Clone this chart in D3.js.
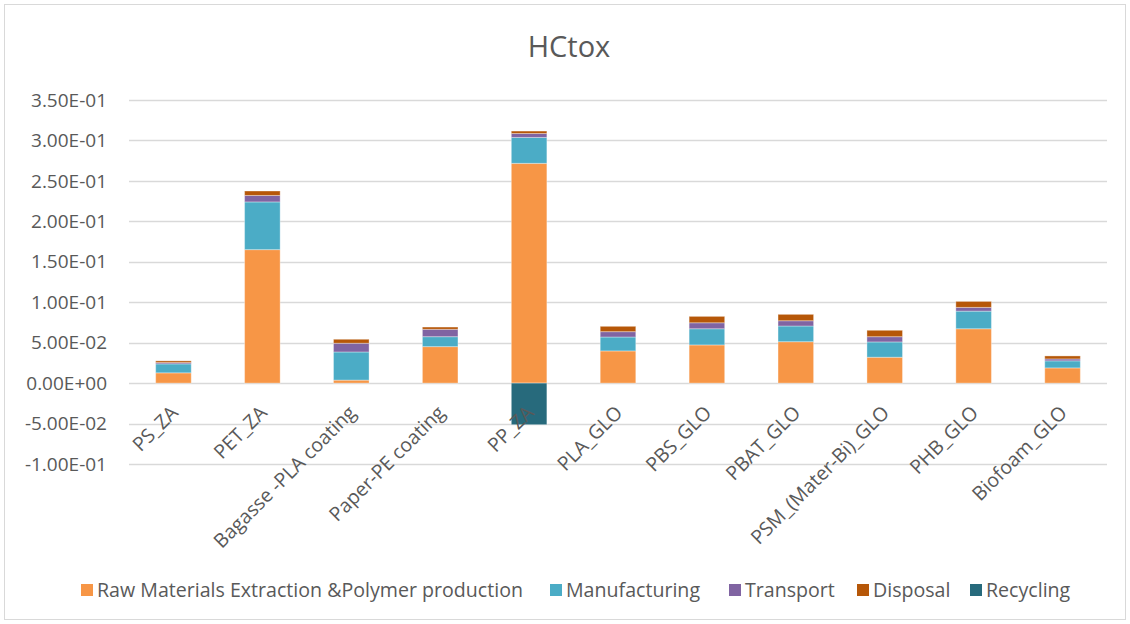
<!DOCTYPE html>
<html>
<head>
<meta charset="utf-8">
<script src="https://cdn.jsdelivr.net/npm/d3@7"></script>
<style>
  html, body { margin: 0; padding: 0; background: #fff; }
  text { font-family: "Open Sans", sans-serif; fill: #595959; }
</style>
</head>
<body>
<svg id="chart" width="1130" height="624"></svg>
<script>
const categories = ["PS_ZA", "PET_ZA", "Bagasse -PLA coating", "Paper-PE coating", "PP_ZA",
  "PLA_GLO", "PBS_GLO", "PBAT_GLO", "PSM_(Mater-Bi)_GLO", "PHB_GLO", "Biofoam_GLO"];
const seriesNames = ["Raw Materials Extraction &Polymer production", "Manufacturing", "Transport", "Disposal", "Recycling"];
const rawMaterials = [0.0127, 0.165, 0.0037, 0.0451, 0.2717, 0.0398, 0.0472, 0.0512, 0.0320, 0.0672, 0.0188];
const manufacturing = [0.0111, 0.059, 0.0348, 0.0123, 0.0320, 0.0172, 0.0200, 0.0194, 0.0189, 0.0218, 0.0087];
const transport = [0.0016, 0.008, 0.0108, 0.0091, 0.0049, 0.0066, 0.0074, 0.0065, 0.0065, 0.0046, 0.0024];
const disposal = [0.0021, 0.0055, 0.0049, 0.0028, 0.0030, 0.0066, 0.0079, 0.0079, 0.0079, 0.0074, 0.0037];
const recycling = [0, 0, 0, 0, -0.0514, 0, 0, 0, 0, 0, 0];
const yTicks = [-0.1, -0.05, 0, 0.05, 0.1, 0.15, 0.2, 0.25, 0.3, 0.35];
const yTickLabels = ["-1.00E-01", "-5.00E-02", "0.00E+00", "5.00E-02", "1.00E-01", "1.50E-01", "2.00E-01", "2.50E-01", "3.00E-01", "3.50E-01"];
const colors = ["#F79646", "#4BACC6", "#8064A2", "#B65708", "#276A7C"];

const seriesValues = [rawMaterials, manufacturing, transport, disposal, recycling];
const svg = d3.select("#chart");

// border
svg.append("rect").attr("x", 4.5).attr("y", 4.5).attr("width", 1121).attr("height", 615)
  .attr("fill", "#fff").attr("stroke", "#D9D9D9").attr("stroke-width", 1);

const plotLeft = 129, plotRight = 1107;
const y = d3.scaleLinear().domain([-0.1, 0.35]).range([464, 100]);
const x = d3.scaleBand().domain(categories).range([plotLeft, plotRight]).paddingInner(0.6).paddingOuter(0.3);

// gridlines
svg.append("g").selectAll("line").data(yTicks).join("line")
  .attr("x1", plotLeft).attr("x2", plotRight)
  .attr("y1", d => Math.round(y(d)) + 0.5).attr("y2", d => Math.round(y(d)) + 0.5)
  .attr("stroke", "#D9D9D9").attr("stroke-width", 1.5);

// y labels
svg.append("g").selectAll("text").data(yTicks).join("text")
  .attr("x", 107).attr("y", d => y(d)).attr("dy", "0.35em")
  .attr("text-anchor", "end").attr("font-size", 19)
  .text((d, i) => yTickLabels[i]);

// stacked bars
categories.forEach((c, ci) => {
  let pos = 0, neg = 0;
  seriesValues.forEach((vals, si) => {
    const v = vals[ci];
    if (!v) return;
    let y0, y1;
    if (v >= 0) { y0 = pos; y1 = pos + v; pos = y1; }
    else { y0 = neg + v; y1 = neg; neg = y0; }
    svg.append("rect")
      .attr("x", x(c)).attr("width", x.bandwidth())
      .attr("y", y(y1)).attr("height", y(y0) - y(y1))
      .attr("fill", colors[si])
      .attr("stroke", "#ffffff").attr("stroke-opacity", 0.35).attr("stroke-width", 1);
  });
});

// x labels
svg.append("g").selectAll("text").data(categories).join("text")
  .attr("transform", d => `translate(${x(d) + x.bandwidth() / 2 - 4},${y(0) + 21}) rotate(-45)`)
  .attr("text-anchor", "end").attr("dy", "0.71em").attr("font-size", 19.5)
  .text(d => d);

// title
svg.append("text").attr("x", 569).attr("y", 57).attr("text-anchor", "middle")
  .attr("font-size", 29).text("HCtox");

// legend
const legendX = [81, 550, 729, 857, 970];
const lg = svg.append("g");
seriesNames.forEach((n, i) => {
  lg.append("rect").attr("x", legendX[i]).attr("y", 584).attr("width", 12).attr("height", 12).attr("fill", colors[i]);
  lg.append("text").attr("x", legendX[i] + 16).attr("y", 590).attr("dy", "0.35em")
    .attr("font-size", 19.6).text(n);
});
</script>
</body>
</html>
